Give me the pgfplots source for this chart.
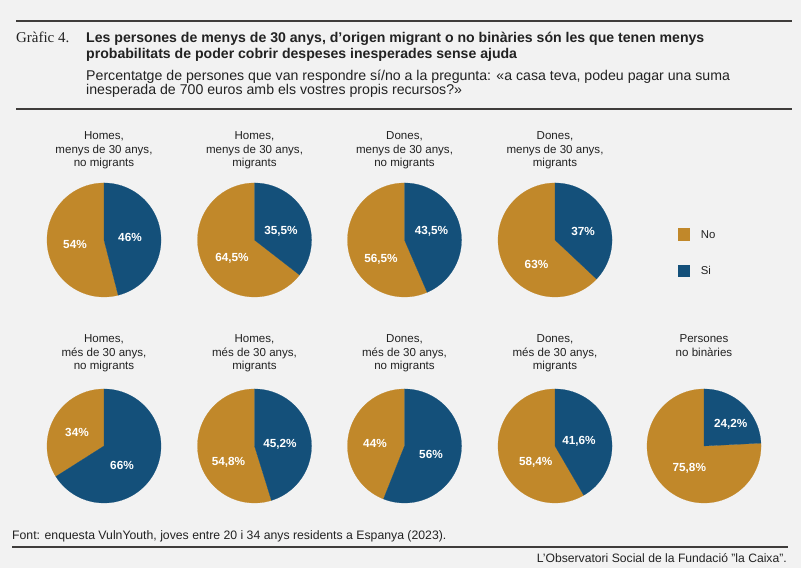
\documentclass[border=0pt]{standalone}
\usepackage{fontspec}
\setmainfont{Liberation Sans}
\newfontfamily\seriff{Liberation Serif}
\usepackage{pgfplots}
\pgfplotsset{compat=1.18}
\definecolor{nocol}{HTML}{C1882A}
\definecolor{sicol}{HTML}{14507A}
\definecolor{bgc}{HTML}{F2F2F2}
\definecolor{rulec}{HTML}{3F3D3B}
\definecolor{txt}{HTML}{222222}

% #1 cx, #2 cy (from top), #3 Si percentage, #4 Si label, #5 No label,
% #6,#7 Si label offset (px, up positive), #8,#9 No label offset
\newcommand{\pie}[9]{%
\pgfmathsetmacro{\cyy}{568-#2}%
\begin{axis}[at={(#1bp,\cyy bp)}, anchor=center, hide axis,
  x=57bp, y=57bp, xmin=-1.1, xmax=1.1, ymin=-1.1, ymax=1.1, clip=false]
\addplot[fill=nocol, draw=nocol, line width=0.2pt, domain=-270:90-3.6*#3,
  samples=150, variable=\t] ({cos(\t)},{sin(\t)}) -- (axis cs:0,0) -- cycle;
\addplot[fill=sicol, draw=sicol, line width=0.2pt, domain=90-3.6*#3:90,
  samples=150, variable=\t] ({cos(\t)},{sin(\t)}) -- (axis cs:0,0) -- cycle;
\node[text=white, inner sep=0pt, font=\fontsize{11.8}{14}\selectfont\bfseries]
  at (axis cs:{#6/57},{#7/57}) {#4};
\node[text=white, inner sep=0pt, font=\fontsize{11.8}{14}\selectfont\bfseries]
  at (axis cs:{#8/57},{#9/57}) {#5};
\end{axis}}

% #1 cx, #2 first baseline (from top), #3 #4 #5 lines
\newcommand{\ptitle}[5]{%
\node[anchor=base, inner sep=0pt, text=txt, font=\fontsize{11.6}{13}\selectfont] at (#1,{568-#2}) {#3};
\node[anchor=base, inner sep=0pt, text=txt, font=\fontsize{11.6}{13}\selectfont] at (#1,{568-#2-13.3}) {#4};
\node[anchor=base, inner sep=0pt, text=txt, font=\fontsize{11.6}{13}\selectfont] at (#1,{568-#2-26.6}) {#5};
}

\begin{document}
\begin{tikzpicture}[x=1bp, y=1bp]
\fill[bgc] (0,0) rectangle (801,568);
\path[use as bounding box] (0,0) rectangle (801,568);

% rules
\draw[rulec, line width=2bp] (16,{568-21}) -- (792,{568-21});
\draw[rulec, line width=2bp] (16,{568-109}) -- (792,{568-109});
\draw[rulec, line width=2bp] (12,{568-547}) -- (788,{568-547});

% header
\node[anchor=base west, inner sep=0pt, text=txt, font=\seriff\fontsize{15}{16}\selectfont] at (16,{568-43}) {Gràfic 4.};
\node[anchor=base west, inner sep=0pt, text=txt, font=\fontsize{14.15}{16}\selectfont\bfseries] at (86,{568-42.7}) {Les persones de menys de 30 anys, d’origen migrant o no binàries són les que tenen menys};
\node[anchor=base west, inner sep=0pt, text=txt, font=\fontsize{14.15}{16}\selectfont\bfseries] at (86,{568-58.3}) {probabilitats de poder cobrir despeses inesperades sense ajuda};
\node[anchor=base west, inner sep=0pt, text=txt, font=\fontsize{14.2}{16}\selectfont] at (86,{568-80.7}) {Percentatge de persones que van respondre sí/no a la pregunta: «a casa teva, podeu pagar una suma};
\node[anchor=base west, inner sep=0pt, text=txt, font=\fontsize{14.2}{16}\selectfont] at (86,{568-95}) {inesperada de 700 euros amb els vostres propis recursos?»};

% row 1
\ptitle{104}{140}{Homes,}{menys de 30 anys,}{no migrants}
\ptitle{254.5}{140}{Homes,}{menys de 30 anys,}{migrants}
\ptitle{404.5}{140}{Dones,}{menys de 30 anys,}{no migrants}
\ptitle{555}{140}{Dones,}{menys de 30 anys,}{migrants}
\pie{104}{240}{46}{46\%}{54\%}{26}{3}{-29}{-4}
\pie{254.5}{240}{35.5}{35,5\%}{64,5\%}{26.5}{8.3}{-22.5}{-18}
\pie{404.5}{240}{43.5}{43,5\%}{56,5\%}{27}{8.3}{-23.5}{-19.3}
\pie{555}{240}{37}{37\%}{63\%}{28}{8.3}{-18.5}{-24}

% row 2
\ptitle{104}{343}{Homes,}{més de 30 anys,}{no migrants}
\ptitle{254.5}{343}{Homes,}{més de 30 anys,}{migrants}
\ptitle{404.5}{343}{Dones,}{més de 30 anys,}{no migrants}
\ptitle{555}{343}{Dones,}{més de 30 anys,}{migrants}
\ptitle{704}{343}{Persones}{no binàries}{}
\pie{104}{446}{66}{66\%}{34\%}{18}{-19}{-27}{14}
\pie{254.5}{446}{45.2}{45,2\%}{54,8\%}{25.5}{2}{-26}{-16.3}
\pie{404.5}{446}{56}{56\%}{44\%}{26.5}{-8}{-29.5}{2.7}
\pie{555}{446}{41.6}{41,6\%}{58,4\%}{24}{4.3}{-19.3}{-16.7}
\pie{704}{446}{24.2}{24,2\%}{75,8\%}{26.7}{22}{-14.7}{-22.3}

% legend
\fill[nocol] (677.7,{568-241}) rectangle (690.3,{568-228.3});
\fill[sicol] (677.7,{568-277.3}) rectangle (690.3,{568-264.7});
\node[anchor=base west, inner sep=0pt, text=txt, font=\fontsize{11.4}{13}\selectfont] at (700.7,{568-239}) {No};
\node[anchor=base west, inner sep=0pt, text=txt, font=\fontsize{11.4}{13}\selectfont] at (700.7,{568-275}) {Si};

% footer
\node[anchor=base west, inner sep=0pt, text=txt, font=\fontsize{12.3}{13}\selectfont] at (12,{568-539.3}) {Font: enquesta VulnYouth, joves entre 20 i 34 anys residents a Espanya (2023).};
\node[anchor=base east, inner sep=0pt, text=txt, font=\fontsize{12.2}{13}\selectfont] at (787,{568-563}) {L’Observatori Social de la Fundació ”la Caixa”.};
\end{tikzpicture}
\end{document}
